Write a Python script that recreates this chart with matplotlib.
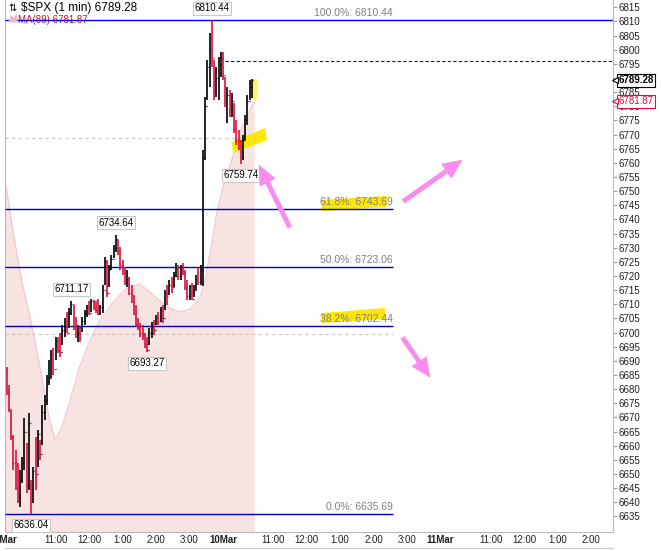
import numpy as np

import matplotlib

matplotlib.use("Agg")
import matplotlib.pyplot as plt
from matplotlib.lines import Line2D
from matplotlib.patches import FancyArrowPatch, Polygon
from matplotlib.transforms import blended_transform_factory

plt.rcParams["font.family"] = ["Liberation Sans", "DejaVu Sans"]

# x axis = trading minutes since 9Mar 9:30 (390 minutes per session)
BAR_START = 2
BAR_STEP = 4
FIRST_OPEN = 6687.0

highs = [
	6687.8, 6681.5, 6672.6, 6663.8, 6658.5, 6653.9, 6651.4, 6656.0, 6669.8, 6661.0,
	6671.6, 6647.9, 6652.4, 6663.1, 6665.6, 6662.0, 6674.4, 6677.9, 6685.0, 6690.3,
	6693.8, 6694.5, 6698.4, 6698.4, 6699.8, 6702.7, 6705.2, 6707.3, 6708.7, 6711.17,
	6709.8, 6705.5, 6702.7, 6702.0, 6705.5, 6708.0, 6709.8, 6711.0, 6712.0, 6711.6,
	6711.2, 6711.8, 6709.8, 6716.8, 6726.7, 6725.6, 6723.9, 6727.4, 6730.9, 6734.64,
	6732.7, 6730.3, 6725.6, 6723.2, 6722.1, 6719.7, 6716.8, 6713.3, 6709.8, 6705.2,
	6703.4, 6702.7, 6699.8, 6698.4, 6701.6, 6703.7, 6704.4, 6706.2, 6707.3, 6709.0,
	6709.8, 6715.0, 6716.8, 6718.6, 6719.7, 6721.4, 6724.6, 6723.9, 6723.9, 6724.6,
	6722.1, 6718.6, 6716.8, 6717.5, 6716.8, 6720.4, 6723.2, 6723.9, 6764.5, 6783.3,
	6796.4, 6805.9, 6810.44, 6796.4, 6793.9, 6797.4, 6799.2, 6799.2, 6790.4, 6786.8,
	6785.8, 6784.7, 6781.2, 6775.2, 6771.6, 6768.1, 6769.9, 6776.9, 6784.0, 6789.3,
	6789.6,
]
lows = [
	6677.9, 6671.9, 6662.0, 6651.4, 6644.3, 6639.7, 6638.3, 6646.8, 6651.4, 6643.3,
	6644.3, 6636.04, 6639.7, 6644.3, 6652.4, 6655.0, 6660.2, 6669.1, 6674.4, 6681.5,
	6684.0, 6685.0, 6690.3, 6692.8, 6691.4, 6695.6, 6698.4, 6699.8, 6701.6, 6706.2,
	6700.9, 6698.0, 6696.7, 6696.7, 6700.2, 6702.7, 6705.5, 6706.2, 6707.3, 6708.0,
	6706.9, 6706.2, 6706.2, 6706.9, 6716.8, 6712.6, 6716.1, 6722.1, 6726.4, 6728.5,
	6727.4, 6722.1, 6720.4, 6716.8, 6716.1, 6713.3, 6710.5, 6706.2, 6702.0, 6700.9,
	6698.4, 6697.4, 6694.5, 6693.27, 6695.6, 6698.1, 6699.1, 6702.7, 6702.7, 6703.7,
	6703.4, 6708.0, 6709.8, 6713.3, 6714.0, 6716.1, 6719.7, 6718.6, 6718.6, 6720.4,
	6715.0, 6711.5, 6711.5, 6711.5, 6712.6, 6715.0, 6716.8, 6716.8, 6716.5, 6761.0,
	6782.2, 6786.8, 6793.9, 6782.2, 6783.3, 6782.2, 6790.4, 6789.3, 6779.7, 6774.1,
	6776.2, 6776.2, 6770.6, 6766.3, 6764.5, 6759.74, 6761.0, 6768.1, 6773.4, 6782.2,
	6782.9,
]
closes = [
	6679, 6673, 6663, 6654, 6650, 6642, 6648, 6654, 6665, 6646,
	6668, 6640, 6651, 6650, 6664, 6657, 6672, 6676, 6683, 6684,
	6692, 6687, 6697, 6694, 6693, 6701, 6704, 6700, 6707, 6710,
	6702, 6699, 6700, 6698, 6704, 6707, 6709, 6707, 6711, 6709,
	6708, 6707, 6709, 6715, 6725, 6714, 6722, 6726, 6730, 6733,
	6729, 6724, 6721, 6718, 6719, 6714, 6711, 6707, 6703, 6702,
	6700, 6699, 6696, 6694, 6700, 6702, 6701, 6705, 6704, 6708,
	6705, 6714, 6713, 6717, 6716, 6720, 6723, 6720, 6722, 6721,
	6716, 6713, 6714, 6712, 6715, 6719, 6718, 6722, 6762, 6780,
	6794, 6800, 6797, 6785, 6790, 6795, 6797, 6791, 6782, 6784,
	6779, 6782, 6772, 6768, 6766, 6762, 6768, 6775, 6782, 6787,
	6789.28,
]

ma_minutes = [0, 3, 13, 30, 44, 56, 67, 78, 89, 101, 116, 134, 152, 169, 193, 218, 241,
	265, 290, 313, 331, 349, 358, 367, 379, 390, 403, 420, 446]
ma_values = [6752.9, 6749.4, 6736.3, 6717.5, 6705.5, 6693.8, 6682.2, 6670.1, 6662.0,
	6666.6, 6676.2, 6688.5, 6697.4, 6704.4, 6710.8, 6715.8, 6717.2, 6713.3, 6709.0,
	6707.3, 6708.3, 6712.6, 6718.6, 6728.5, 6742.6, 6751.5, 6759.3, 6770.9, 6781.87]
MA_LAST = 6781.87

fib_pcts = [100.0, 61.8, 50.0, 38.2, 0.0]
fib_values = [6810.44, 6743.69, 6723.06, 6702.44, 6635.69]
FIB_END = 695

# swing labels: bar index, is high
swing_bars = [(92, True), (49, True), (29, True), (63, False), (105, False), (11, False)]

tick_minutes = [0, 90, 150, 210, 270, 330, 390, 480, 540, 600, 660, 720, 780, 870, 930, 990, 1050]
tick_labels = ["9Mar", "11:00", "12:00", "1:00", "2:00", "3:00", "10Mar", "11:00", "12:00",
	"1:00", "2:00", "3:00", "11Mar", "11:00", "12:00", "1:00", "2:00"]

XMIN, XMAX = -0.9, 1089.5
YMIN, YMAX = 6629.5, 6817.6

RED = "#d8103c"
PINK = "#fa8cf0"
YELLOW = "#ffe800"

fig = plt.figure(figsize=(6.61, 5.51), dpi=100)
ax = fig.add_axes([5 / 661, 19 / 551, 608 / 661, 532 / 551])
ax.set_xlim(XMIN, XMAX)
ax.set_ylim(YMIN, YMAX)

# MA(89) mountain
ax.fill_between(ma_minutes, ma_values, YMIN, color="#f8e3e3", lw=0, zorder=1)
ax.plot(ma_minutes, ma_values, color="#f0c6ca", lw=0.8, zorder=1.2)

# reference lines
ax.hlines(6768.8, XMIN, 440, color="#c8c8c8", ls=(0, (3, 3)), lw=0.8, zorder=1.5)
ax.hlines(6699.5, XMIN, FIB_END, color="#c8c8c8", ls=(0, (3, 3)), lw=0.8, zorder=1.5)
ax.hlines(6796.0, 394, XMAX, color="#1010a0", ls=(0, (3, 2)), lw=0.8, zorder=1.5)

# highlighter marks
yellow_marks = [
	[(566, 6746.9), (684, 6748.3), (684, 6744.4), (568, 6743.0)],
	[(566, 6706.9), (681, 6708.7), (681, 6704.8), (568, 6703.4)],
	[(406, 6767.4), (465, 6772.3), (469, 6768.1), (408, 6763.5)],
]
for pts in yellow_marks:
	ax.add_patch(Polygon(pts, closed=True, fc=YELLOW, ec="none", zorder=2))
ax.add_patch(Polygon([(442, 6789.7), (451, 6789.7), (451, 6782.6), (442, 6782.6)],
	closed=True, fc="#fff36a", ec="none", zorder=2))

# fib lines
for pct, val in zip(fib_pcts, fib_values):
	if pct == 100.0:
		ax.hlines(val, XMIN, XMAX, color="#0000ff", lw=1.0, zorder=3)
	else:
		ax.hlines(val, XMIN, FIB_END, color="#0000c0", lw=1.0, zorder=3)
	ax.annotate(f"{pct:.1f}%: {val:.2f}", xy=(FIB_END - 1, val), xytext=(0, 1.5),
		textcoords="offset points", ha="right", va="bottom", fontsize=7.5, color="#808080", zorder=4)

# OHLC bars
bar_minutes = BAR_START + BAR_STEP * np.arange(len(closes))
opens = [FIRST_OPEN] + closes[:-1]
for i, m in enumerate(bar_minutes):
	prev = opens[i]
	color = "black" if closes[i] >= prev else RED
	ax.vlines(m, lows[i], highs[i], color=color, lw=1.2, zorder=4)
	ax.hlines(opens[i], m - 1.6, m, color=color, lw=0.9, zorder=4)
	ax.hlines(closes[i], m, m + 1.6, color=color, lw=0.9, zorder=4)

# swing high / low labels
for idx, is_high in swing_bars:
	val = highs[idx] if is_high else lows[idx]
	ax.annotate(f"{val:.2f}", xy=(bar_minutes[idx], val), xytext=(0, 8.5 if is_high else -8.5),
		textcoords="offset points", ha="center", va="center", fontsize=7, color="black", zorder=6,
		bbox=dict(boxstyle="square,pad=0.15", fc="white", ec="#c8c8c8", lw=0.8))

# hand drawn arrows
arrows = [((512, 6736.3), (452, 6760.3)), ((709, 6745.8), (824, 6761.7)), ((709, 6699.1), (765, 6683.2))]
for start, end in arrows:
	ax.add_patch(FancyArrowPatch(start, end, arrowstyle="simple,head_length=1.45,head_width=1.3,tail_width=0.36",
		mutation_scale=10, color=PINK, lw=0, zorder=7))

# axes styling
ax.spines["top"].set_visible(False)
for side in ("left", "right", "bottom"):
	ax.spines[side].set_color("#b8b8b8")
	ax.spines[side].set_linewidth(0.8)

ax.yaxis.tick_right()
ax.set_yticks(np.arange(6635, 6816, 5))
ax.tick_params(axis="y", length=3, width=0.8, color="#a0a0a0", pad=1, labelsize=7, labelcolor="#202020")
ax.set_xticks(tick_minutes)
ax.set_xticklabels(tick_labels)
ax.tick_params(axis="x", length=0, pad=2.5, labelsize=7, labelcolor="#202020")
for lab in ax.get_xticklabels():
	if "Mar" in lab.get_text():
		lab.set_fontweight("bold")

fig.add_artist(Line2D([5 / 661, 613 / 661], [1 - 548 / 551] * 2, transform=fig.transFigure,
	color="#c8c8c8", lw=0.8))

# right price tags
edge = blended_transform_factory(ax.transAxes, ax.transData)
for val, fg, weight in ((closes[-1], "black", "bold"), (MA_LAST, RED, "normal")):
	ax.annotate(f"{val:.2f}", xy=(1, val), xycoords=edge, xytext=(4, 0), textcoords="offset points",
		ha="left", va="center", fontsize=7, fontweight=weight, color=fg, zorder=10, annotation_clip=False,
		bbox=dict(boxstyle="square,pad=0.15", fc="white", ec=fg, lw=0.8))
	ax.plot([1.003], [val], marker="<", ms=4, mfc="white", mec=fg, mew=0.8, transform=edge,
		clip_on=False, zorder=11)

# header texts
ax.text(0.006, 0.985, "\u21c5", transform=ax.transAxes, fontsize=7, va="center", ha="left")
ax.text(0.026, 0.985, f"$SPX (1 min) {closes[-1]:.2f}", transform=ax.transAxes, fontsize=8.5,
	va="center", ha="left", color="black", zorder=8)
ax.add_patch(Polygon([(0.005, 0.958), (0.010, 0.972), (0.014, 0.966), (0.019, 0.975), (0.021, 0.958)],
	closed=True, transform=ax.transAxes, fc="#f2b8c0", ec="none", zorder=8))
ax.text(0.022, 0.963, f"MA(89) {MA_LAST:.2f}", transform=ax.transAxes, fontsize=7,
	va="center", ha="left", color=RED, zorder=2)

fig.savefig("out.png", dpi=100)
